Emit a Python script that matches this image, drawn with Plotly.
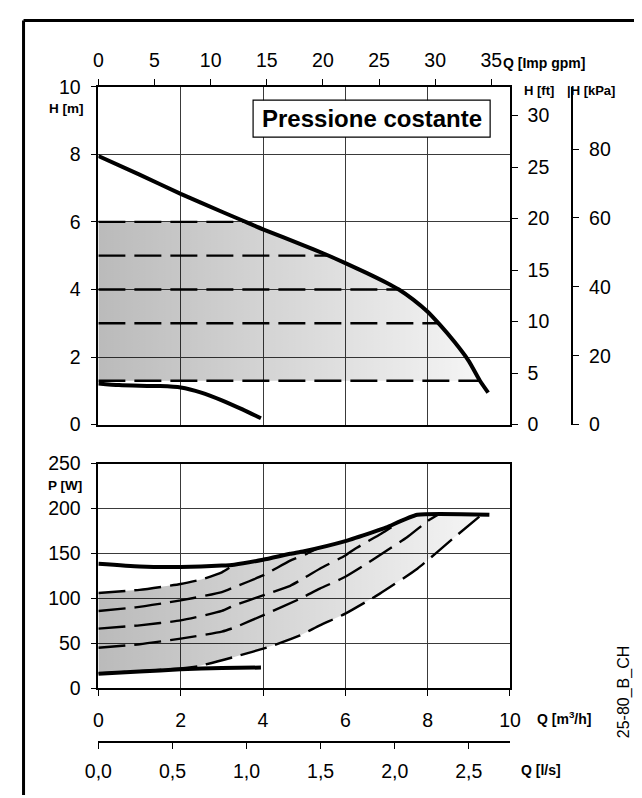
import numpy as np
import plotly.graph_objects as go

# ---------------- data ----------------
# Head curves, Q in m3/h, H in m
q_hmax = [0, 1, 2, 3, 3.5, 4, 5, 5.5, 6, 6.5, 7, 7.3, 7.65, 8, 8.3, 8.65, 9, 9.27, 9.47]
h_max = [7.95, 7.4, 6.83, 6.3, 6.04, 5.78, 5.3, 5.05, 4.78, 4.5, 4.2, 4.0, 3.7, 3.34, 2.95, 2.45, 1.88, 1.3, 0.95]
q_hmin = [0, 0.5, 1, 1.5, 2, 2.5, 3, 3.5, 3.95]
h_min = [1.22, 1.17, 1.15, 1.14, 1.1, 0.95, 0.72, 0.45, 0.19]
h_levels = [6, 5, 4, 3, 1.3]

# Power curves, Q in m3/h, P in W
q_pmax = [0, 1, 2, 3, 3.3, 4, 4.66, 5, 6, 6.67, 7, 7.75, 9.5]
p_max = [138.5, 135.5, 135, 136.5, 137.5, 143, 149.6, 152.5, 163.7, 173.7, 179, 193, 193]
q_pmin = [0, 1, 2, 3, 3.95]
p_min = [16, 18.5, 21, 22.5, 23]

q_p6 = [0, 1, 2, 2.5, 3, 3.3]
p_6 = [106, 109.5, 116, 121, 129, 137.5]
q_p5 = [0, 0.9, 2, 3, 3.3, 4, 4.66, 5.06, 5.35]
p_5 = [86, 90, 97.7, 107, 112.5, 125.5, 142, 149.6, 156]
q_p4 = [0, 1, 2, 3, 3.3, 4, 4.66, 4.9, 5.38, 6, 6.23, 6.87, 7.25]
p_4 = [66.3, 70, 75.5, 86, 92.2, 103.3, 114, 120, 133, 147.8, 155, 172, 183]
q_p3 = [0, 1, 2, 3, 3.3, 4, 4.9, 5.38, 6, 6.5, 7, 7.5, 8, 8.25]
p_3 = [45.1, 49, 55.2, 63, 67.4, 81.1, 99.6, 110.8, 124, 138, 153, 168, 186, 193]
q_p1 = [0, 1, 2, 2.42, 3.3, 4.18, 4.9, 5.38, 6, 6.83, 7.75, 8.6, 9.31]
p_1 = [16.5, 19, 22, 24.4, 34.8, 46.6, 58.8, 70, 83, 105, 133, 166, 193]
power_dashed = [(q_p6, p_6), (q_p5, p_5), (q_p4, p_4), (q_p3, p_3), (q_p1, p_1)]

# axis tick labels
q_ls_ticks = [0, 0.5, 1.0, 1.5, 2.0, 2.5]
q_ls_labels = ["0,0", "0,5", "1,0", "1,5", "2,0", "2,5"]

# unit conversions
M3H_TO_IMPGPM = 3.6662
M_TO_FT = 3.28084
M_TO_KPA = 9.81
M3H_TO_LS = 1 / 3.6

# ---------------- geometry helpers ----------------
W, H = 642, 798
# the photographed page shows the figure slightly scaled/shifted; map target pixels back
SX, OX = 0.969, 19.0
SY, OY = 0.974, 17.7
def fx(p):
    return ((p - OX) / SX) / W
def fy(p):
    return 1 - ((p - OY) / SY) / H

FONT = "Liberation Sans, Arial, sans-serif"
BLACK = "#000000"
GRID = "#3a3a3a"
DASH = "27px,9px"

fig = go.Figure()

# ---------------- top chart (H) ----------------
hq = np.array(q_hmax)
hh = np.array(h_max)
def q_at_head(level):
    return float(np.interp(level, hh[::-1], hq[::-1]))

top_lvl, bot_lvl = max(h_levels), min(h_levels)
q_top_end = q_at_head(top_lvl)
q_bot_end = q_at_head(bot_lvl)
inner = (hh < top_lvl) & (hh > bot_lvl)
poly_x = [0, q_top_end] + list(hq[inner]) + [q_bot_end, 0]
poly_y = [top_lvl, top_lvl] + list(hh[inner]) + [bot_lvl, bot_lvl]

grad = dict(type="horizontal",
            colorscale=[[0, "rgba(0,0,0,0.27)"], [1, "rgba(0,0,0,0.04)"]])

fig.add_trace(go.Scatter(x=poly_x, y=poly_y, fill="toself", mode="lines",
                         line=dict(width=0, color="rgba(0,0,0,0)"),
                         fillcolor="rgba(0,0,0,0.15)", fillgradient=grad,
                         xaxis="x", yaxis="y", hoverinfo="skip", showlegend=False))
for lvl in h_levels:
    fig.add_trace(go.Scatter(x=[0, q_at_head(lvl)], y=[lvl, lvl], mode="lines",
                             line=dict(color=BLACK, width=2.4, dash=DASH),
                             xaxis="x", yaxis="y", hoverinfo="skip", showlegend=False))
fig.add_trace(go.Scatter(x=q_hmax, y=h_max, mode="lines",
                         line=dict(color=BLACK, width=4, shape="spline", smoothing=0.6),
                         xaxis="x", yaxis="y", showlegend=False))
fig.add_trace(go.Scatter(x=q_hmin, y=h_min, mode="lines",
                         line=dict(color=BLACK, width=4, shape="spline", smoothing=0.6),
                         xaxis="x", yaxis="y", showlegend=False))

# empty traces so the secondary axes are built
for xa, ya in [("x3", "y"), ("x", "y3"), ("x", "y4"), ("x4", "y2")]:
    fig.add_trace(go.Scatter(x=[], y=[], xaxis=xa, yaxis=ya, showlegend=False, hoverinfo="skip"))

# ---------------- bottom chart (P) ----------------
pq = np.array(q_pmax)
pp = np.array(p_max)
q_up_end = q_p6[-1]
q_lo_end = q_p1[-1]
mid = (pq > q_up_end) & (pq < q_lo_end)
p_at_end = float(np.interp(q_lo_end, pq, pp))
ppoly_x = list(q_p6) + list(pq[mid]) + [q_lo_end] + list(q_p1[::-1])
ppoly_y = list(p_6) + list(pp[mid]) + [p_at_end] + list(p_1[::-1])
fig.add_trace(go.Scatter(x=ppoly_x, y=ppoly_y, fill="toself", mode="lines",
                         line=dict(width=0, color="rgba(0,0,0,0)"),
                         fillcolor="rgba(0,0,0,0.15)", fillgradient=grad,
                         xaxis="x2", yaxis="y2", hoverinfo="skip", showlegend=False))
for qs, ps in power_dashed:
    fig.add_trace(go.Scatter(x=qs, y=ps, mode="lines",
                             line=dict(color=BLACK, width=2.4, dash=DASH, shape="spline", smoothing=0.5),
                             xaxis="x2", yaxis="y2", hoverinfo="skip", showlegend=False))
fig.add_trace(go.Scatter(x=q_pmax, y=p_max, mode="lines",
                         line=dict(color=BLACK, width=4, shape="spline", smoothing=0.5),
                         xaxis="x2", yaxis="y2", showlegend=False))
fig.add_trace(go.Scatter(x=q_pmin, y=p_min, mode="lines",
                         line=dict(color=BLACK, width=4, shape="spline", smoothing=0.5),
                         xaxis="x2", yaxis="y2", showlegend=False))

# ---------------- layout ----------------
xdom = [fx(96), fx(511)]
top_dom = [fy(424), fy(85.5)]
bot_dom = [fy(688), fy(463)]
tickfont = dict(family=FONT, size=19.5, color=BLACK)

common = dict(showline=True, linecolor=BLACK, linewidth=1.5, zeroline=False,
              tickfont=tickfont, tickcolor=BLACK, ticklen=6, tickwidth=1.2)

fig.update_layout(
    width=W, height=H, margin=dict(l=0, r=0, t=0, b=0),
    paper_bgcolor="white", plot_bgcolor="white",
    font=dict(family=FONT, color=BLACK),
    showlegend=False,
    xaxis=dict(domain=xdom, anchor="y", range=[0, 10], dtick=2, showgrid=True,
               gridcolor=GRID, gridwidth=1, showticklabels=False, ticks="",
               showline=True, linecolor=BLACK, linewidth=1.5, zeroline=False),
    yaxis=dict(domain=top_dom, anchor="x", range=[0, 10], dtick=2, showgrid=True,
               gridcolor=GRID, gridwidth=1, ticks="outside", ticklabelstandoff=6, **common),
    xaxis3=dict(overlaying="x", side="top", anchor="y", range=[0, 10 * M3H_TO_IMPGPM],
                dtick=5, showgrid=False, ticks="outside", ticklabelstandoff=4, **common),
    yaxis3=dict(overlaying="y", side="right", anchor="x", range=[0, 10 * M_TO_FT],
                dtick=5, showgrid=False, ticks="outside", ticklabelstandoff=6, **common),
    yaxis4=dict(overlaying="y", side="right", anchor="free", position=fx(574),
                range=[0, 10 * M_TO_KPA], dtick=20, showgrid=False, ticks="outside",
                ticklabelstandoff=6, **common),
    xaxis2=dict(domain=xdom, anchor="y2", range=[0, 10], dtick=2, showgrid=True,
                gridcolor=GRID, gridwidth=1, ticks="outside", mirror=True,
                ticklabelstandoff=8, **common),
    yaxis2=dict(domain=bot_dom, anchor="x2", range=[0, 250], dtick=50, showgrid=True,
                gridcolor=GRID, gridwidth=1, ticks="outside", mirror=True,
                ticklabelstandoff=6, **common),
    xaxis4=dict(overlaying="x2", anchor="free", position=fy(742), side="bottom",
                range=[0, 10 * M3H_TO_LS], tickvals=q_ls_ticks, ticktext=q_ls_labels,
                showgrid=False, ticks="outside", ticklabelstandoff=6, **common),
)

# outer frame (top and left edges)
edge = 1.6 / W
edge_y = 1 - 1.6 / H
fig.add_shape(type="line", xref="paper", yref="paper", x0=edge, x1=1.0, y0=edge_y, y1=edge_y,
              line=dict(color=BLACK, width=3))
fig.add_shape(type="line", xref="paper", yref="paper", x0=edge, x1=edge, y0=edge_y, y1=0,
              line=dict(color=BLACK, width=3))

# "Pressione costante" box
fig.add_shape(type="rect", xref="paper", yref="paper", x0=fx(252), x1=fx(491), y0=fy(136), y1=fy(99),
              line=dict(color=BLACK, width=1.2), fillcolor="white", layer="above")

def label(text, xpx, ypx, size=13, bold=True, xanchor="left", angle=0):
    t = f"<b>{text}</b>" if bold else text
    fig.add_annotation(text=t, xref="paper", yref="paper", x=fx(xpx), y=fy(ypx),
                       xanchor=xanchor, yanchor="middle", showarrow=False, textangle=angle,
                       font=dict(family=FONT, size=size, color=BLACK))

label("Pressione costante", 371.5, 117.5, size=24, xanchor="center")
label("H [m]", 84, 107, size=13.5, xanchor="right")
label("P [W]", 82, 485, size=13.5, xanchor="right")
label("Q [Imp gpm]", 502, 62, size=14)
label("H [ft]", 523, 89, size=13)
label("|H [kPa]", 566, 89, size=13)
label("Q [m<sup>3</sup>/h]", 536, 718, size=14)
label("Q [l/s]", 520, 770, size=14)
label("25-80_B_CH", 626, 692, size=16, bold=False, xanchor="center", angle=-90)

fig.write_html("out.html")
